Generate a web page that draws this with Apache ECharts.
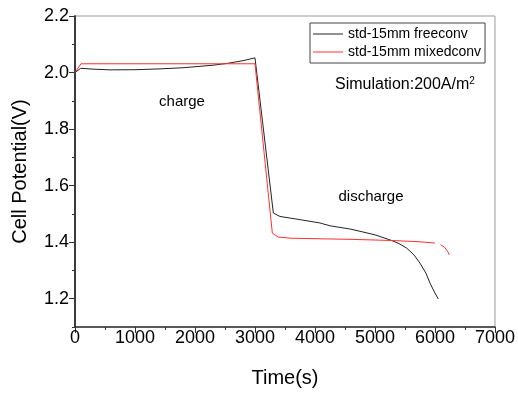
<!DOCTYPE html>
<html>
<head>
<meta charset="utf-8">
<script src="https://cdn.jsdelivr.net/npm/echarts@6/dist/echarts.min.js"></script>
<style>html,body{margin:0;padding:0;background:#fff;}#c{width:518px;height:394px;}</style>
</head>
<body>
<div id="c"></div>
<script>
var seriesNames = ['std-15mm freeconv', 'std-15mm mixedconv'];
var freeconv = [[0,2.000],[95,2.015],[300,2.012],[583,2.0095],[1000,2.010],[1417,2.013],[1800,2.017],[2083,2.022],[2300,2.026],[2528,2.032],[2800,2.042],[3000,2.052],[3306,1.503],[3417,1.491],[3800,1.478],[4083,1.468],[4250,1.458],[4600,1.446],[5000,1.426],[5278,1.406],[5400,1.395],[5528,1.379],[5650,1.355],[5750,1.326],[5850,1.290],[5917,1.255],[6000,1.220],[6055,1.199]];
var mixedconv = [[0,2.000],[100,2.031],[3000,2.031],[3289,1.432],[3389,1.418],[3600,1.414],[4083,1.412],[4600,1.410],[5278,1.406],[5700,1.402],[6000,1.397],[6045,'-'],[6094,1.391],[6160,1.382],[6210,1.368],[6239,1.355]];
var yMajorTicks = [1.2,1.4,1.6,1.8,2.0,2.2];
var yMinorTicks = [1.1,1.3,1.5,1.7,1.9,2.1];
var annotations = [
  {text:'charge', x:182, y:102},
  {text:'discharge', x:371, y:197}
];

var chart = echarts.init(document.getElementById('c'));
var font = 'Liberation Sans, Arial, sans-serif';
chart.setOption({
  animation: false,
  grid: {left:75, right:23, top:16, bottom:67, show:true, borderColor:'#999', borderWidth:1},
  legend: {
    left:310, top:23, orient:'vertical', borderColor:'#444', borderWidth:1,
    padding:[3,4,3,3], itemWidth:30, itemHeight:1, itemGap:2, icon:'rect',
    textStyle:{fontFamily:font, fontSize:14, color:'#000', lineHeight:16},
    data: seriesNames
  },
  xAxis: {
    type:'value', min:0, max:7000, interval:1000,
    axisLine:{show:true, lineStyle:{color:'#333', width:1.5}},
    axisTick:{show:true, inside:false, length:6, lineStyle:{color:'#333'}},
    minorTick:{show:true, splitNumber:2, length:3, lineStyle:{color:'#333'}},
    splitLine:{show:false},
    axisLabel:{fontFamily:font, fontSize:18, color:'#000', margin:2,
      formatter:function(v){return String(v);}},
    name:'Time(s)', nameLocation:'middle', nameGap:41,
    nameTextStyle:{fontFamily:font, fontSize:20, color:'#000'}
  },
  yAxis: [{
    type:'value', min:1.1, max:2.2, interval:0.1,
    axisLine:{show:true, lineStyle:{color:'#333', width:1.5}},
    axisTick:{show:true, length:6, customValues:yMajorTicks, lineStyle:{color:'#333'}},
    splitLine:{show:false},
    axisLabel:{fontFamily:font, fontSize:18, color:'#000', margin:6, customValues:yMajorTicks,
      formatter:function(v){return v.toFixed(1);}},
    name:'Cell Potential(V)', nameLocation:'middle', nameGap:45,
    nameTextStyle:{fontFamily:font, fontSize:20, color:'#000'}
  },{
    type:'value', min:1.1, max:2.2, interval:0.1, position:'left', offset:0,
    axisLine:{show:true, lineStyle:{color:'#333', width:1.5}},
    axisTick:{show:true, length:3, customValues:yMinorTicks, lineStyle:{color:'#333'}},
    axisLabel:{show:false},
    splitLine:{show:false}
  }],
  series: [
    {name:seriesNames[0], type:'line', data:freeconv, symbol:'none', smooth:false,
     lineStyle:{color:'#222', width:1}, itemStyle:{color:'#222'}},
    {name:seriesNames[1], type:'line', data:mixedconv, symbol:'none', smooth:false, connectNulls:false,
     lineStyle:{color:'#ff3030', width:1}, itemStyle:{color:'#ff3030'}}
  ],
  graphic: annotations.map(function(a){
    return {type:'text', x:a.x, y:a.y, style:{text:a.text, fill:'#000', font:'15px '+font, align:'center', verticalAlign:'middle'}};
  }).concat([{
    type:'text', x:335, y:85,
    style:{text:'{a|Simulation:200A/m}{b|2}', verticalAlign:'middle', align:'left',
      rich:{a:{fontFamily:font, fontSize:16, fill:'#000', color:'#000'}, b:{fontFamily:font, fontSize:10, fill:'#000', color:'#000', verticalAlign:'top', padding:[0,0,8,0]}}}
  }])
});
</script>
</body>
</html>
